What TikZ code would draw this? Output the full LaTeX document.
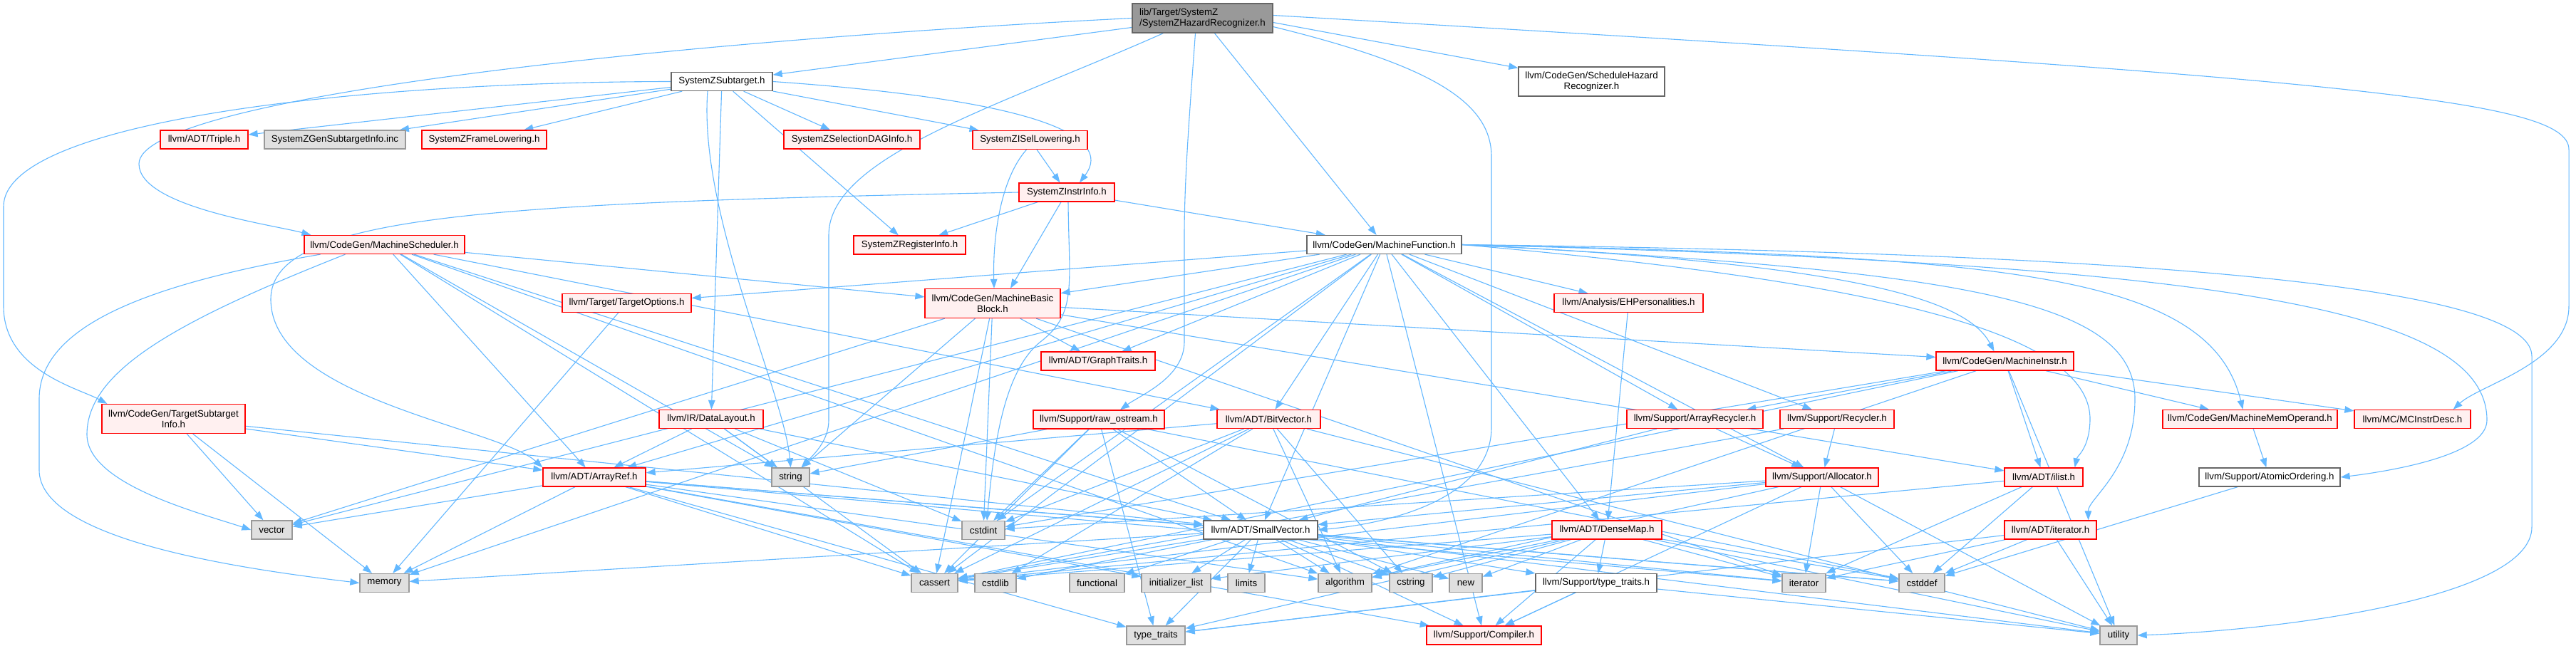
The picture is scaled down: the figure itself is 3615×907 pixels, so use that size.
\documentclass[tikz,border=0pt]{standalone}
\usepackage{fontspec}
\setmainfont{Liberation Sans}
\usetikzlibrary{arrows.meta}
\definecolor{edgec}{RGB}{99,184,255}
\definecolor{redb}{RGB}{255,0,0}
\definecolor{redf}{RGB}{255,240,240}
\definecolor{grayf}{RGB}{224,224,224}
\definecolor{grayb}{RGB}{153,153,153}
\definecolor{darkb}{RGB}{102,102,102}
\definecolor{rootf}{RGB}{153,153,153}
\pgfdeclarelayer{bg}
\pgfsetlayers{bg,main}
\tikzset{
 box/.style={draw, line width=1.3pt, inner sep=0pt, minimum height=26pt, font=\fontsize{13.3}{15.5}\selectfont, text=black, anchor=center},
 rbox/.style={box, draw=redb, fill=redf},
 gbox/.style={box, draw=grayb, fill=grayf},
 wbox/.style={box, draw=darkb, fill=white},
 dep/.style={draw=edgec, line width=1.1pt, -{Triangle[length=13pt,width=9.5pt]}},
}
\begin{document}
\begin{tikzpicture}[x=1pt,y=-1pt]
\useasboundingbox (0,0) rectangle (3615,907);
% nodes
\node[box, fill=rootf, draw=darkb, minimum width=197pt, minimum height=41pt, align=left] (root) at (1687.5,25.5) {lib/Target/SystemZ\\/SystemZHazardRecognizer.h};
\node[wbox, minimum width=142pt] (subt) at (1013,114.5) {SystemZSubtarget.h};
\node[wbox, minimum width=205pt, minimum height=41pt, align=center] (shr) at (2233.5,114.5) {llvm/CodeGen/ScheduleHazard\\Recognizer.h};
\node[rbox, minimum width=123pt] (triple) at (286.5,196) {llvm/ADT/Triple.h};
\node[gbox, minimum width=198pt] (gensub) at (470,196) {SystemZGenSubtargetInfo.inc};
\node[rbox, minimum width=175pt] (frame) at (679.5,196) {SystemZFrameLowering.h};
\node[rbox, minimum width=191pt] (seldag) at (1195.5,196) {SystemZSelectionDAGInfo.h};
\node[rbox, minimum width=161pt] (isel) at (1445.5,196.5) {SystemZISelLowering.h};
\node[rbox, minimum width=134pt] (instr) at (1497,270) {SystemZInstrInfo.h};
\node[rbox, minimum width=225pt] (msched) at (539.5,343.5) {llvm/CodeGen/MachineScheduler.h};
\node[rbox, minimum width=157pt] (reginfo) at (1276.5,344) {SystemZRegisterInfo.h};
\node[wbox, minimum width=217pt] (mfunc) at (1942.5,343.5) {llvm/CodeGen/MachineFunction.h};
\node[rbox, minimum width=181pt] (topt) at (879.5,425.5) {llvm/Target/TargetOptions.h};
\node[rbox, minimum width=190pt, minimum height=41pt, align=center] (mbb) at (1393,426) {llvm/CodeGen/MachineBasic\\Block.h};
\node[rbox, minimum width=209pt] (ehp) at (2285.5,425.5) {llvm/Analysis/EHPersonalities.h};
\node[rbox, minimum width=201pt, minimum height=41pt, align=center] (tsi) at (243.5,588) {llvm/CodeGen/TargetSubtarget\\Info.h};
\node[rbox, minimum width=160pt] (gtraits) at (1541,507) {llvm/ADT/GraphTraits.h};
\node[rbox, minimum width=193pt] (minstr) at (2813.5,507) {llvm/CodeGen/MachineInstr.h};
\node[rbox, minimum width=146pt] (dlayout) at (998,588.5) {llvm/IR/DataLayout.h};
\node[rbox, minimum width=184pt] (rawos) at (1542,589) {llvm/Support/raw\_ostream.h};
\node[rbox, minimum width=145pt] (bitvec) at (1780.5,588.5) {llvm/ADT/BitVector.h};
\node[rbox, minimum width=191pt] (arecyc) at (2378.5,588.5) {llvm/Support/ArrayRecycler.h};
\node[rbox, minimum width=160pt] (recyc) at (2578,588.5) {llvm/Support/Recycler.h};
\node[rbox, minimum width=245pt] (memop) at (3157.5,588.5) {llvm/CodeGen/MachineMemOperand.h};
\node[rbox, minimum width=163pt] (mcid) at (3385.5,588.5) {llvm/MC/MCInstrDesc.h};
\node[rbox, minimum width=144pt] (arrayref) at (834,670) {llvm/ADT/ArrayRef.h};
\node[gbox, minimum width=53pt] (str) at (1109.5,670) {string};
\node[rbox, minimum width=158pt] (alloc) at (2557,670) {llvm/Support/Allocator.h};
\node[rbox, minimum width=110pt] (ilist) at (2868,670) {llvm/ADT/ilist.h};
\node[wbox, minimum width=198pt] (atomic) at (3185,670) {llvm/Support/AtomicOrdering.h};
\node[gbox, minimum width=57pt] (vec) at (381.5,744) {vector};
\node[gbox, minimum width=60pt] (cstdint) at (1380,744.5) {cstdint};
\node[wbox, minimum width=160pt] (smallvec) at (1769,744) {llvm/ADT/SmallVector.h};
\node[rbox, minimum width=154pt] (densemap) at (2255,744) {llvm/ADT/DenseMap.h};
\node[rbox, minimum width=129pt] (iterh) at (2877.5,744) {llvm/ADT/iterator.h};
\node[gbox, minimum width=69pt] (mem) at (539.5,818.5) {memory};
\node[gbox, minimum width=65pt] (cassert) at (1311.5,818.5) {cassert};
\node[gbox, minimum width=58pt] (cstdlib) at (1397,818.5) {cstdlib};
\node[gbox, minimum width=77pt] (functional) at (1539.5,818.5) {functional};
\node[gbox, minimum width=97pt] (initlist) at (1650.5,818.5) {initializer\_list};
\node[gbox, minimum width=52pt] (limits) at (1749,818.5) {limits};
\node[gbox, minimum width=75pt] (algorithm) at (1887.5,818.5) {algorithm};
\node[gbox, minimum width=60pt] (cstring) at (1980,818.5) {cstring};
\node[gbox, minimum width=46pt] (nnew) at (2057,818.5) {new};
\node[wbox, minimum width=170pt] (stt) at (2240,818.5) {llvm/Support/type\_traits.h};
\node[gbox, minimum width=61pt] (iterator) at (2531.5,818.5) {iterator};
\node[gbox, minimum width=64pt] (cstddef) at (2697,818.5) {cstddef};
\node[gbox, minimum width=82pt] (tt) at (1622,892) {type\_traits};
\node[rbox, minimum width=161pt] (compiler) at (2082.5,892) {llvm/Support/Compiler.h};
\node[gbox, minimum width=52pt] (utility) at (2973,892) {utility};

\begin{pgfonlayer}{bg}
\fill[white] (0,0) rectangle (3615,907);
% root
\draw[dep] (root) -- (subt);
\draw[dep] ([yshift=-6pt]root.east) -- (shr);
\draw[dep] (root.west) .. controls (900,60) and (195,140) .. (195,230) .. controls (195,290) and (380,315) .. ([xshift=10pt]msched.north west);
\draw[dep] (root) -- (mfunc);
\draw[dep] ([yshift=4pt]root.east) .. controls (3300,110) and (3605,140) .. (3605,210) -- (3605,430) .. controls (3605,510) and (3480,540) .. ([xshift=-25pt]mcid.north east);
\draw[dep] ([xshift=-10pt]root.south) .. controls (1670,150) and (1662,250) .. (1662,330) -- (1662,480) .. controls (1662,530) and (1600,555) .. ([xshift=30pt]rawos.north);
\draw[dep] ([yshift=-12pt]root.east) .. controls (2000,90) and (2093,140) .. (2093,220) -- (2093,600) .. controls (2093,700) and (1950,735) .. (smallvec.east);
\draw[dep] ([xshift=-55pt]root.south) .. controls (1400,150) and (1163,220) .. (1163,330) -- (1163,590) .. controls (1163,620) and (1140,640) .. ([xshift=15pt]str.north);
% subtarget
\draw[dep] (subt) -- (triple);
\draw[dep] (subt) -- (gensub);
\draw[dep] (subt) -- (frame);
\draw[dep] (subt) -- (seldag);
\draw[dep] (subt) -- (isel);
\draw[dep] (subt.east) .. controls (1450,140) and (1565,190) .. ([xshift=18pt]instr.north);
\draw[dep] (subt) -- (reginfo);
\draw[dep] (subt.west) .. controls (500,115) and (5,170) .. (5,290) -- (5,430) .. controls (5,520) and (110,545) .. ([xshift=8pt]tsi.north west);
\draw[dep] (subt) -- (dlayout);
\draw[dep] ([xshift=-20pt]subt.south) .. controls (980,300) and (1100,550) .. (str.north);
% isel / instr
\draw[dep] (isel) -- (instr);
\draw[dep] ([xshift=-5pt]isel.south) .. controls (1405,250) and (1393,330) .. ([xshift=2pt]mbb.north);
\draw[dep] (instr) -- (reginfo);
\draw[dep] (instr.west) .. controls (700,285) and (380,300) .. (380,420) .. controls (380,560) and (700,600) .. (arrayref.north west);
\draw[dep] (instr) -- ([xshift=25pt]mbb.north);
\draw[dep] (instr) -- (mfunc);
\draw[dep] ([xshift=2pt]instr.south) .. controls (1500,400) and (1512,440) .. (1460,480) .. controls (1410,520) and (1395,620) .. ([xshift=5pt]cstdint.north);
% machine scheduler
\draw[dep] ([xshift=-90pt]msched.south) .. controls (200,400) and (55,460) .. (55,560) -- (55,660) .. controls (55,760) and (350,800) .. (mem.west);
\draw[dep] ([xshift=-55pt]msched.south) .. controls (250,450) and (122,520) .. (122,610) .. controls (122,680) and (280,720) .. (vec.west);
\draw[dep] (msched) -- (arrayref);
\draw[dep] (msched) -- (bitvec);
\draw[dep] (msched) -- (smallvec);
\draw[dep] (msched) -- (mbb);
\draw[dep] (msched) -- (algorithm);
\draw[dep] (msched) -- (cassert);
\draw[dep] (msched) -- (str);
% machine function
\draw[dep] (mfunc) -- (arrayref);
\draw[dep] (mfunc) -- (bitvec);
\draw[dep] (mfunc) -- (densemap);
\draw[dep] (mfunc) -- (gtraits);
\draw[dep] (mfunc) -- (smallvec);
\draw[dep] (mfunc.east) .. controls (2700,400) and (2935,480) .. (2933,590) .. controls (2932,630) and (2915,640) .. ([xshift=-12pt]ilist.north east);
\draw[dep] (mfunc.east) .. controls (2750,380) and (2996,420) .. (2996,560) .. controls (2996,660) and (2930,700) .. ([xshift=-12pt]iterh.north east);
\draw[dep] (mfunc) -- (ehp);
\draw[dep] (mfunc) -- (mbb);
\draw[dep] (mfunc.east) .. controls (2600,370) and (2760,420) .. ([xshift=-15pt]minstr.north);
\draw[dep] (mfunc.east) .. controls (2800,360) and (3100,380) .. ([xshift=-10pt]memop.north);
\draw[dep] (mfunc) -- (alloc);
\draw[dep] (mfunc) -- (arecyc);
\draw[dep] (mfunc.east) .. controls (3100,370) and (3490,430) .. (3490,590) .. controls (3490,640) and (3350,662) .. (atomic.east);
\draw[dep] (mfunc) -- (compiler);
\draw[dep] (mfunc) -- (recyc);
\draw[dep] (mfunc) -- (topt);
\draw[dep] (mfunc) -- (cassert);
\draw[dep] (mfunc) -- (cstdint);
\draw[dep] (mfunc) -- (mem);
\draw[dep] (mfunc.east) .. controls (3000,355) and (3553,400) .. (3553,500) -- (3553,740) .. controls (3553,840) and (3200,885) .. (utility.east);
\draw[dep] (mfunc) -- (vec);
% machine basic block
\draw[dep] (mbb) -- (gtraits);
\draw[dep] (mbb) -- (ilist);
\draw[dep] (mbb) -- (minstr);
\draw[dep] (mbb) -- (cassert);
\draw[dep] (mbb) -- (cstdint);
\draw[dep] (mbb) -- (iterator);
\draw[dep] (mbb) -- (str);
\draw[dep] (mbb) -- (vec);
% machine instr
\draw[dep] (minstr) -- (ilist);
\draw[dep] (minstr) -- (memop);
\draw[dep] (minstr) -- (mcid);
\draw[dep] (minstr) -- (arecyc);
\draw[dep] (minstr) -- (algorithm);
\draw[dep] (minstr) -- (cassert);
\draw[dep] (minstr) -- (cstdint);
\draw[dep] (minstr) -- (utility);
% others
\draw[dep] (topt) -- (mem);
\draw[dep] (ehp) -- (densemap);
\draw[dep] (tsi) -- (arrayref);
\draw[dep] (tsi) -- (smallvec);
\draw[dep] (tsi) -- (mem);
\draw[dep] (tsi) -- (vec);
\draw[dep] (dlayout) -- (arrayref);
\draw[dep] (dlayout) -- (smallvec);
\draw[dep] (dlayout) -- (cassert);
\draw[dep] (dlayout) -- (cstdint);
\draw[dep] (dlayout) -- (str);
\draw[dep] (rawos) -- (smallvec);
\draw[dep] (rawos) -- (cassert);
\draw[dep] (rawos) -- (cstddef);
\draw[dep] (rawos) -- (cstdint);
\draw[dep] (rawos) -- (cstring);
\draw[dep] (rawos) -- (str);
\draw[dep] (rawos) -- (tt);
\draw[dep] (bitvec) -- (arrayref);
\draw[dep] (bitvec) -- (algorithm);
\draw[dep] (bitvec) -- (cassert);
\draw[dep] (bitvec) -- (cstdint);
\draw[dep] (bitvec) -- (cstdlib);
\draw[dep] (bitvec) -- (cstring);
\draw[dep] (bitvec) -- (utility);
\draw[dep] (arecyc) -- (smallvec);
\draw[dep] (arecyc) -- (alloc);
\draw[dep] (recyc) -- (alloc);
\draw[dep] (recyc) -- (cassert);
\draw[dep] (memop) -- (atomic);
% ArrayRef
\draw[dep] (arrayref) -- (smallvec);
\draw[dep] (arrayref) -- (compiler);
\draw[dep] (arrayref) -- (algorithm);
\draw[dep] (arrayref) -- (cassert);
\draw[dep] (arrayref) -- (cstddef);
\draw[dep] (arrayref) -- (initlist);
\draw[dep] (arrayref) -- (iterator);
\draw[dep] (arrayref) -- (mem);
\draw[dep] (arrayref) -- (tt);
\draw[dep] (arrayref) -- (vec);
% Allocator
\draw[dep] (alloc) -- (smallvec);
\draw[dep] (alloc) -- (compiler);
\draw[dep] (alloc) -- (algorithm);
\draw[dep] (alloc) -- (cassert);
\draw[dep] (alloc) -- (cstddef);
\draw[dep] (alloc) -- (cstdint);
\draw[dep] (alloc) -- (iterator);
\draw[dep] (alloc) -- (utility);
% ilist, atomic
\draw[dep] (ilist) -- (cassert);
\draw[dep] (ilist) -- (cstddef);
\draw[dep] (ilist) -- (iterator);
\draw[dep] (atomic) -- (cstddef);
% SmallVector
\draw[dep] (smallvec) -- (compiler);
\draw[dep] (smallvec) -- (stt);
\draw[dep] (smallvec) -- (algorithm);
\draw[dep] (smallvec) -- (cassert);
\draw[dep] (smallvec) -- (cstddef);
\draw[dep] (smallvec) -- (cstdlib);
\draw[dep] (smallvec) -- (cstring);
\draw[dep] (smallvec) -- (functional);
\draw[dep] (smallvec) -- (initlist);
\draw[dep] (smallvec) -- (iterator);
\draw[dep] (smallvec) -- (limits);
\draw[dep] (smallvec) -- (mem);
\draw[dep] (smallvec) -- (nnew);
\draw[dep] (smallvec) -- (tt);
\draw[dep] (smallvec) -- (utility);
% DenseMap
\draw[dep] (densemap) -- (compiler);
\draw[dep] (densemap) -- (stt);
\draw[dep] (densemap) -- (algorithm);
\draw[dep] (densemap) -- (cassert);
\draw[dep] (densemap) -- (cstddef);
\draw[dep] (densemap) -- (cstring);
\draw[dep] (densemap) -- (initlist);
\draw[dep] (densemap) -- (iterator);
\draw[dep] (densemap) -- (nnew);
\draw[dep] (densemap) -- (tt);
\draw[dep] (densemap) -- (utility);
% iterator.h
\draw[dep] (iterh) -- (cstddef);
\draw[dep] (iterh) -- (iterator);
\draw[dep] (iterh) -- (tt);
\draw[dep] (iterh) -- (utility);
% Support/type_traits.h
\draw[dep] (stt) -- (compiler);
\draw[dep] (stt) -- (tt);
\draw[dep] (stt) -- (utility);
\end{pgfonlayer}
\end{tikzpicture}
\end{document}
